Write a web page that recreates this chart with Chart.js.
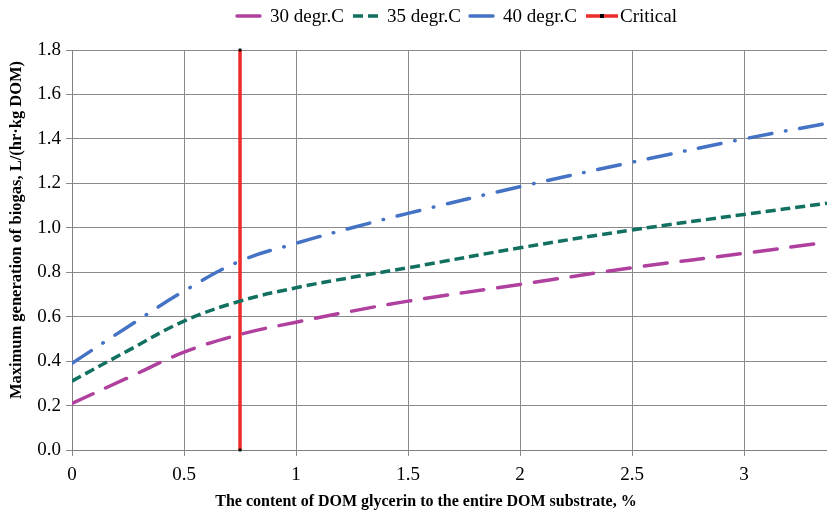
<!DOCTYPE html>
<html>
<head>
<meta charset="utf-8">
<script src="https://cdn.jsdelivr.net/npm/chart.js@4.4.1/dist/chart.umd.min.js"></script>
<style>
  html, body { margin: 0; padding: 0; background: #ffffff; }
  #wrap { width: 827px; height: 513px; position: relative; }
</style>
</head>
<body>
<div id="wrap"><canvas id="graficoBiogas"></canvas></div>
<script>
// teor de glicerina (% da MS) e geração máxima de biogás por temperatura
const teorGlicerina = [0, 0.25, 0.5, 0.75, 1, 1.25, 1.5, 2, 2.5, 3, 3.37];
const biogas30 = [0.21, 0.325, 0.44, 0.52, 0.575, 0.625, 0.67, 0.745, 0.82, 0.885, 0.935];
const biogas35 = [0.31, 0.447, 0.58, 0.67, 0.73, 0.777, 0.82, 0.91, 0.99, 1.06, 1.11];
const biogas40 = [0.39, 0.555, 0.715, 0.85, 0.93, 1.0, 1.065, 1.185, 1.295, 1.40, 1.47];
const teorCritico = 0.75;
const limitesCritico = [0, 1.8];

const nomesSeries = ["30 degr.C", "35 degr.C", "40 degr.C", "Critical"];
const tituloX = "The content of DOM glycerin to the entire DOM substrate, %";
const tituloY = "Maximum generation of biogas, L/(hr·kg DOM)";

const fonteSerif = "'Liberation Serif', 'Times New Roman', serif";

const pontos = (serie) => teorGlicerina.map((x, i) => ({ x, y: serie[i] }));

// legenda e títulos dos eixos desenhados à mão
const textosExtras = {
  id: "textosExtras",
  afterDraw(chart) {
    const ctx = chart.ctx;
    ctx.save();

    // legenda: [início da amostra, fim da amostra, início do texto]
    const itens = [[237, 263, 270], [353, 383, 387], [470, 496, 503], [586, 618, 620]];
    ctx.font = `19px ${fonteSerif}`;
    ctx.textBaseline = "middle";
    const yLeg = 16;
    chart.data.datasets.forEach((ds, i) => {
      const [x0, x1, xt] = itens[i];
      ctx.beginPath();
      ctx.strokeStyle = ds.borderColor;
      ctx.lineWidth = 3.5;
      ctx.lineCap = ds.borderCapStyle || "butt";
      ctx.setLineDash(ds.borderDash || []);
      ctx.moveTo(x0, yLeg);
      ctx.lineTo(x1, yLeg);
      ctx.stroke();
      ctx.setLineDash([]);
      if (ds.pointRadius > 0) {
        ctx.fillStyle = "#000";
        ctx.fillRect((x0 + x1) / 2 - 2, yLeg - 2, 4, 4);
      }
      ctx.fillStyle = "#000";
      ctx.fillText(ds.label, xt, yLeg + 1);
    });

    // título do eixo X
    ctx.font = `bold 16px ${fonteSerif}`;
    ctx.textAlign = "center";
    ctx.fillText(tituloX, 426, 502);

    // título do eixo Y
    ctx.font = `bold 16.5px ${fonteSerif}`;
    ctx.translate(17, 230);
    ctx.rotate(-Math.PI / 2);
    ctx.fillText(tituloY, 0, 0);

    ctx.restore();
  }
};

new Chart(document.getElementById("graficoBiogas"), {
  type: "line",
  data: {
    datasets: [
      {
        label: nomesSeries[0],
        data: pontos(biogas30),
        borderColor: "#b0409e",
        borderWidth: 3.5,
        borderDash: [23, 14],
        borderCapStyle: "round",
        pointRadius: 0,
        tension: 0.4
      },
      {
        label: nomesSeries[1],
        data: pontos(biogas35),
        borderColor: "#11705f",
        borderWidth: 3.5,
        borderDash: [10, 5],
        borderCapStyle: "butt",
        pointRadius: 0,
        tension: 0.4
      },
      {
        label: nomesSeries[2],
        data: pontos(biogas40),
        borderColor: "#4472c4",
        borderWidth: 3.5,
        borderDash: [23, 14, 0.5, 14],
        borderCapStyle: "round",
        pointRadius: 0,
        tension: 0.4
      },
      {
        label: nomesSeries[3],
        data: limitesCritico.map((y) => ({ x: teorCritico, y })),
        borderColor: "#ee2a2a",
        borderWidth: 3.5,
        pointRadius: 2,
        pointStyle: "rect",
        pointBackgroundColor: "#000",
        pointBorderColor: "#000",
        pointBorderWidth: 0,
        clip: false
      }
    ]
  },
  options: {
    responsive: true,
    maintainAspectRatio: false,
    animation: false,
    layout: { autoPadding: false, padding: { top: 50, right: 0, left: 0, bottom: 0 } },
    plugins: {
      legend: { display: false },
      tooltip: { enabled: false }
    },
    scales: {
      x: {
        type: "linear",
        min: 0,
        max: 3.37,
        afterFit: (scale) => { scale.height = 63; },
        afterBuildTicks: (scale) => {
          scale.ticks = scale.ticks.filter((t) => t.value <= 3.0001);
        },
        ticks: {
          stepSize: 0.5,
          color: "#000",
          padding: 8,
          maxRotation: 0,
          font: { family: fonteSerif, size: 19 },
          callback: (v) => String(v)
        },
        grid: { color: "#8a8a8a", lineWidth: 1, tickLength: 6 },
        border: { color: "#808080", width: 1 }
      },
      y: {
        min: 0,
        max: 1.8,
        afterFit: (scale) => { scale.width = 72; },
        ticks: {
          stepSize: 0.2,
          color: "#000",
          padding: 5,
          font: { family: fonteSerif, size: 19 },
          callback: (v) => Number(v).toFixed(1)
        },
        grid: { color: "#8a8a8a", lineWidth: 1, tickLength: 6 },
        border: { color: "#808080", width: 1 }
      }
    }
  },
  plugins: [textosExtras]
});
</script>
</body>
</html>
